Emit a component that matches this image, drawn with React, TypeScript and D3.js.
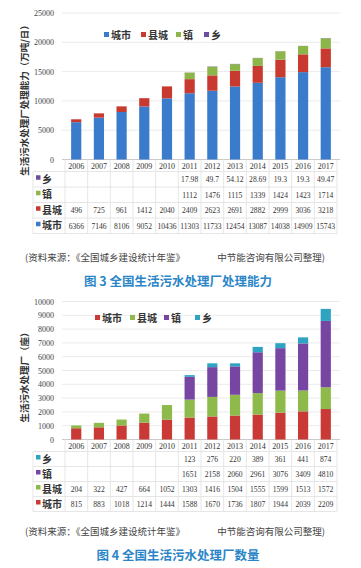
import React from 'react';
import * as d3 from 'd3';

const W = 361;
const H = 568;

const years = ['2006', '2007', '2008', '2009', '2010', '2011', '2012', '2013', '2014', '2015', '2016', '2017'];

// 图3 处理能力（万吨/日）
const capSeries = ['城市', '县城', '镇', '乡'];
const capCity = [6366, 7146, 8106, 9052, 10436, 11303, 11733, 12454, 13087, 14038, 14909, 15743];
const capCounty = [496, 725, 961, 1412, 2040, 2409, 2623, 2691, 2882, 2999, 3036, 3218];
const capTown = [null, null, null, null, null, 1112, 1476, 1115, 1339, 1424, 1423, 1714];
const capVillage = [null, null, null, null, null, 17.98, 49.7, 54.12, 28.69, 19.3, 19.3, 49.47];
const capTicks = [0, 5000, 10000, 15000, 20000, 25000];

// 图4 处理厂数量（座）
const cntSeries = ['城市', '县城', '镇', '乡'];
const cntCity = [815, 883, 1018, 1214, 1444, 1588, 1670, 1736, 1807, 1944, 2039, 2209];
const cntCounty = [204, 322, 427, 664, 1052, 1303, 1416, 1504, 1555, 1599, 1513, 1572];
const cntTown = [null, null, null, null, null, 1651, 2158, 2060, 2961, 3076, 3409, 4810];
const cntVillage = [null, null, null, null, null, 123, 276, 220, 389, 361, 441, 874];
const cntTicks = [0, 1000, 2000, 3000, 4000, 5000, 6000, 7000, 8000, 9000, 10000];

const SERIF = '"Liberation Serif", "DejaVu Serif", serif';
const CJK = '"Noto Sans CJK SC", "Noto Sans", sans-serif';

type Val = number | null;

interface ChartProps {
  series: string[];
  values: Val[][];
  colors: string[];
  ticks: number[];
  yTop: number;
  yBase: number;
  rowH: number;
  legendY: number;
  legendX: number[];
  axisTitle: string;
  axisTitleY: number;
  sourceY: number;
  title: string;
  titleY: number;
}

const X0 = 65;
const X1 = 337;

const StackedChart: React.FC<ChartProps> = (p) => {
  const max = p.ticks[p.ticks.length - 1];
  const y = d3.scaleLinear().domain([0, max]).range([p.yBase, p.yTop]);
  const x = d3.scaleBand().domain(years).range([X0, X1]).paddingInner(0.55).paddingOuter(0.27);
  const step = x.step();
  const colEdges = years.map((_, i) => X0 + i * ((X1 - X0) / years.length));
  colEdges.push(X1);
  const colW = (X1 - X0) / years.length;
  const colCenter = (i: number) => X0 + colW * (i + 0.5);

  const table = years.map((yr, i) => {
    const row: Record<string, number | string> = { year: yr };
    p.series.forEach((s, k) => (row[s] = p.values[k][i] ?? 0));
    return row;
  });
  const stack = d3.stack<Record<string, number | string>>().keys(p.series);
  const layers = stack(table as any);

  const yearRowBottom = p.yBase + 12;
  const rowsTop = yearRowBottom;
  const tableRows = [...p.series].reverse();
  const tableBottom = rowsTop + p.rowH * tableRows.length;

  return (
    <g>
      {/* gridlines */}
      {p.ticks.map((t) => (
        <line key={t} x1={62} x2={340} y1={y(t)} y2={y(t)} stroke={t === 0 ? '#bdbdbd' : '#e6e6e6'} strokeWidth={0.8} />
      ))}
      {p.ticks.map((t) => (
        <text key={'t' + t} x={54} y={y(t) + 3} textAnchor="end" fontFamily={SERIF} fontSize={8} fill="#444">
          {t}
        </text>
      ))}
      {/* bars */}
      {layers.map((layer, k) => (
        <g key={p.series[k]} fill={p.colors[k]}>
          {layer.map((d, i) =>
            d[1] - d[0] > 0 ? (
              <rect key={i} x={x(years[i])} width={x.bandwidth()} y={y(d[1])} height={y(d[0]) - y(d[1])} />
            ) : null
          )}
        </g>
      ))}
      {/* legend */}
      {p.series.map((s, k) => (
        <g key={'lg' + s}>
          <rect x={p.legendX[k]} y={p.legendY - 3} width={5} height={5} fill={p.colors[k]} />
          <text x={p.legendX[k] + 7} y={p.legendY + 3.5} fontFamily={CJK} fontSize={10} fontWeight="bold" fill="#333">
            {s}
          </text>
        </g>
      ))}
      {/* axis title */}
      <text
        transform={`translate(28,${p.axisTitleY}) rotate(-90)`}
        textAnchor="middle"
        fontFamily={CJK}
        fontSize={9.5}
        fontWeight="bold"
        fill="#333"
      >
        {p.axisTitle}
      </text>
      {/* data table */}
      {colEdges.map((cx, i) => (
        <line key={'v' + i} x1={cx} x2={cx} y1={p.yBase} y2={tableBottom} stroke="#e0e0e0" strokeWidth={0.8} />
      ))}
      <line x1={33} x2={33} y1={rowsTop} y2={tableBottom} stroke="#e0e0e0" strokeWidth={0.8} />
      {[0, 1, 2, 3, 4].map((r) => (
        <line key={'h' + r} x1={33} x2={X1} y1={rowsTop + r * p.rowH} y2={rowsTop + r * p.rowH} stroke="#e0e0e0" strokeWidth={0.8} />
      ))}
      {years.map((yr, i) => (
        <text key={'yr' + yr} x={colCenter(i)} y={p.yBase + 9.5} textAnchor="middle" fontFamily={SERIF} fontSize={8} fill="#333">
          {yr}
        </text>
      ))}
      {tableRows.map((s, r) => {
        const k = p.series.indexOf(s);
        const cy = rowsTop + r * p.rowH + p.rowH / 2;
        return (
          <g key={'row' + s}>
            <rect x={36} y={cy - 4} width={4.5} height={4.5} fill={p.colors[k]} />
            <text x={42} y={cy + 3.5} fontFamily={CJK} fontSize={10} fontWeight="bold" fill="#333">
              {s}
            </text>
            {p.values[k].map((v, i) =>
              v == null ? null : (
                <text key={i} x={colCenter(i)} y={cy + 3} textAnchor="middle" fontFamily={SERIF} fontSize={7.6} fill="#333">
                  {v}
                </text>
              )
            )}
          </g>
        );
      })}
      {/* source */}
      <text x={25} y={p.sourceY} fontFamily={CJK} fontSize={9.5} fill="#444">
        (资料来源：《全国城乡建设统计年鉴》
      </text>
      <text x={325} y={p.sourceY} textAnchor="end" fontFamily={CJK} fontSize={9.5} fill="#444">
        中节能咨询有限公司整理)
      </text>
      <text x={178} y={p.titleY} textAnchor="middle" fontFamily={CJK} fontSize={12.5} fontWeight="bold" fill="#2b86c8">
        {p.title}
      </text>
      {step ? null : null}
    </g>
  );
};

export default function App() {
  return (
    <svg width={W} height={H} style={{ position: 'absolute', left: 0, top: 0, background: '#fff' }}>
      <rect width={W} height={H} fill="#fff" />
      <StackedChart
        series={capSeries}
        values={[capCity, capCounty, capTown, capVillage]}
        colors={['#3b7bcb', '#c83a30', '#8db64a', '#6b4f9e']}
        ticks={capTicks}
        yTop={13}
        yBase={159.5}
        rowH={15.5}
        legendY={35}
        legendX={[104, 141, 176, 204]}
        axisTitle="生活污水处理厂处理能力（万吨/日）"
        axisTitleY={98}
        sourceY={261}
        title="图 3 全国生活污水处理厂处理能力"
        titleY={286}
      />
      <StackedChart
        series={cntSeries}
        values={[cntCity, cntCounty, cntTown, cntVillage]}
        colors={['#c93a36', '#8dba4a', '#7746a2', '#2ea4c2']}
        ticks={cntTicks}
        yTop={301.5}
        yBase={439.5}
        rowH={15}
        legendY={318}
        legendX={[95, 130, 164, 195]}
        axisTitle="生活污水处理厂（座）"
        axisTitleY={375}
        sourceY={535}
        title="图 4 全国生活污水处理厂数量"
        titleY={560}
      />
    </svg>
  );
}
